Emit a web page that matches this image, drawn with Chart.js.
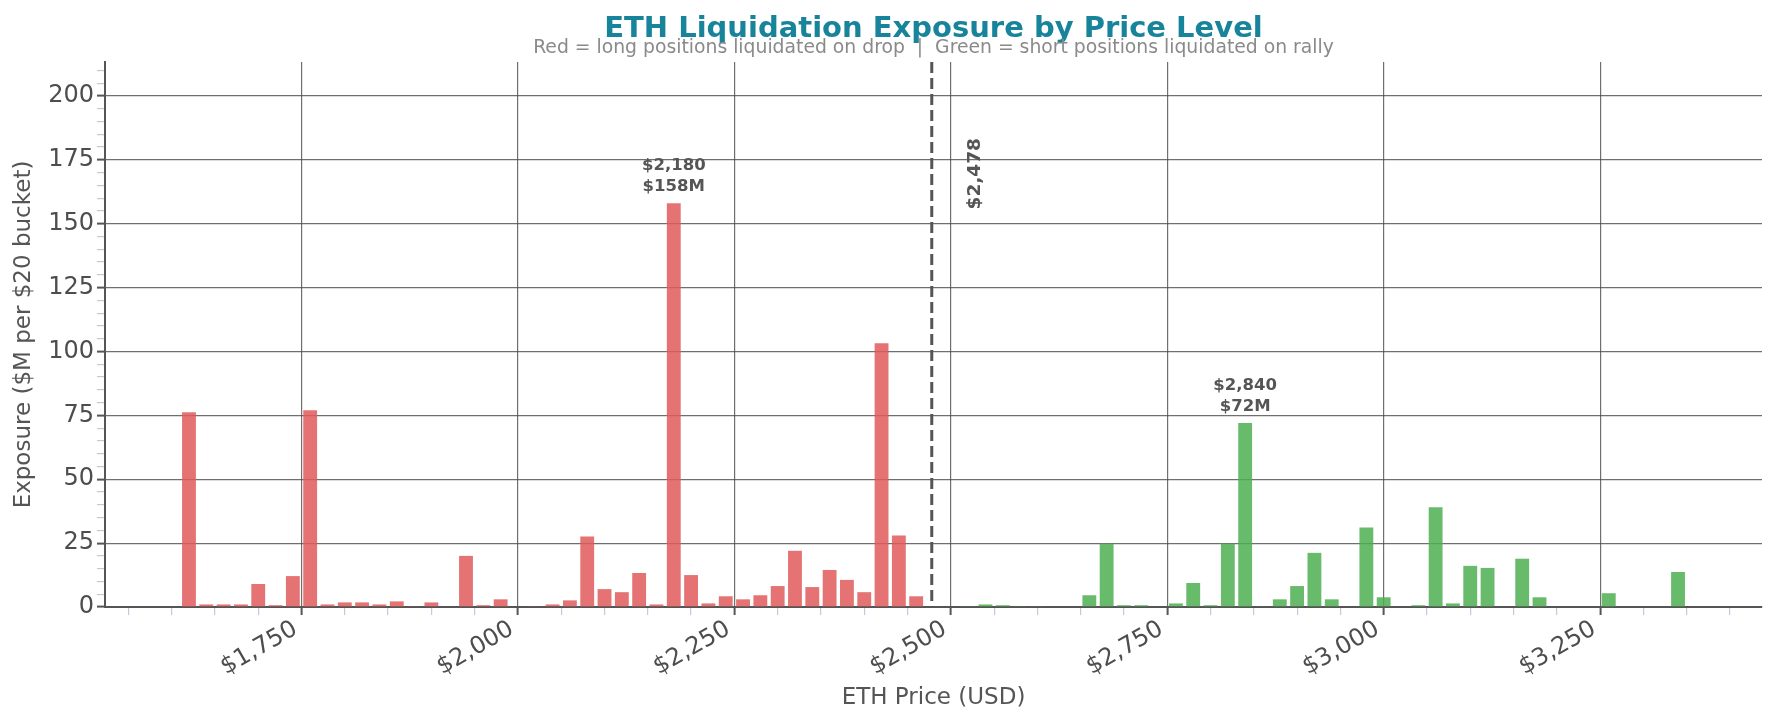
<!DOCTYPE html>
<html>
<head>
<meta charset="utf-8">
<script src="https://cdn.jsdelivr.net/npm/chart.js@4.4.1/dist/chart.umd.min.js"></script>
<style>
  html, body { margin: 0; padding: 0; background: #fff; }
  #wrap { width: 1776px; height: 723px; }
</style>
</head>
<body>
<div id="wrap"><canvas id="liqChart"></canvas></div>
<script>
// ===== data ($M exposure per $20 price bucket)
var longPrices = [1620, 1640, 1660, 1680, 1700, 1720, 1740, 1760, 1780, 1800, 1820, 1840, 1860, 1880, 1900,
    1940, 1960, 1980, 2020, 2040, 2060, 2080, 2100, 2120, 2140, 2160, 2180, 2200, 2220, 2240, 2260,
    2280, 2300, 2320, 2340, 2360, 2380, 2400, 2420, 2440, 2460];
var longValues = [76.2, 1.0, 1.0, 1.0, 9.0, 0.7, 12.1, 77.0, 1.0, 1.8, 1.8, 1.0, 2.2, 0.3, 1.8,
    20.0, 0.7, 3.0, 0.3, 1.0, 2.6, 27.6, 7.0, 5.8, 13.3, 1.0, 158, 12.5, 1.4, 4.2, 3.0,
    4.6, 8.2, 22.0, 7.8, 14.5, 10.6, 5.8, 103.2, 28.0, 4.2];

var shortPrices = [2520, 2540, 2560, 2580, 2600, 2660, 2680, 2700, 2720, 2760, 2780, 2800, 2820, 2840, 2860,
    2880, 2900, 2920, 2940, 2980, 3000, 3040, 3060, 3080, 3100, 3120, 3160, 3180, 3260, 3340];
var shortValues = [0.3, 1.0, 0.7, 0.3, 0.3, 4.6, 24.8, 0.7, 0.7, 1.4, 9.4, 0.7, 24.8, 72, 0.3,
    3.0, 8.2, 21.2, 3.0, 31.1, 3.8, 0.7, 39.0, 1.4, 16.1, 15.3, 18.9, 3.8, 5.4, 13.7];

var currentPrice = 2478;
var xRange = [1523, 3437];
var yMax = 213.3;
var xLabelStep = 250;
var yLabelStep = 25;

var FONT = "'DejaVu Sans', 'Liberation Sans', sans-serif";

function toPoints(prices, values) {
    var pts = [];
    for (var i = 0; i < prices.length; i++) {
        pts.push({ x: prices[i], y: values[i] });
    }
    return pts;
}

function fmtUsd(v) {
    return '$' + Number(v).toLocaleString('en-US');
}

function peakOf(prices, values) {
    var idx = 0;
    for (var i = 1; i < values.length; i++) {
        if (values[i] > values[idx]) idx = i;
    }
    return { price: prices[idx], value: values[idx] };
}

//===================================== overlay: title, current price line, peak labels
var overlayPlugin = {
    id: 'overlay',
    afterDatasetsDraw: function (chart) {
        var ctx = chart.ctx;
        var area = chart.chartArea;
        var xs = chart.scales.x;
        var ys = chart.scales.y;

        // dashed current price line
        var cx = xs.getPixelForValue(currentPrice);
        ctx.save();
        ctx.strokeStyle = '#555';
        ctx.lineWidth = 3;
        ctx.setLineDash([11, 5]);
        ctx.beginPath();
        ctx.moveTo(cx, area.top);
        ctx.lineTo(cx, area.bottom);
        ctx.stroke();
        ctx.restore();

        // current price label (rotated)
        ctx.save();
        ctx.fillStyle = '#555';
        ctx.font = 'bold 18.5px ' + FONT;
        ctx.translate(cx + 43, ys.getPixelForValue(yMax * 0.795));
        ctx.rotate(-Math.PI / 2);
        ctx.textAlign = 'center';
        ctx.textBaseline = 'middle';
        ctx.fillText(fmtUsd(currentPrice), 0, 0);
        ctx.restore();

        // peak labels
        var peaks = [peakOf(longPrices, longValues), peakOf(shortPrices, shortValues)];
        ctx.save();
        ctx.fillStyle = '#555';
        ctx.font = 'bold 16.5px ' + FONT;
        ctx.textAlign = 'center';
        ctx.textBaseline = 'alphabetic';
        peaks.forEach(function (pk) {
            var px = xs.getPixelForValue(pk.price);
            var py = ys.getPixelForValue(pk.value);
            ctx.fillText(fmtUsd(pk.price), px, py - 33);
            ctx.fillText('$' + Math.round(pk.value) + 'M', px, py - 12);
        });
        ctx.restore();

        // title + subtitle, centred on the plot area
        var mid = (area.left + area.right) / 2;
        ctx.save();
        ctx.textAlign = 'center';
        ctx.textBaseline = 'alphabetic';
        ctx.fillStyle = '#17849b';
        ctx.font = 'bold 29px ' + FONT;
        ctx.fillText('ETH Liquidation Exposure by Price Level', mid, 37);
        ctx.fillStyle = '#8a8a8a';
        ctx.font = '18.8px ' + FONT;
        ctx.fillText('Red = long positions liquidated on drop  |  Green = short positions liquidated on rally', mid, 53);
        ctx.restore();
    }
};

var GRID = 'rgba(75,75,75,0.8)';
var MINOR_TICK = '#c3c9dc';

new Chart(document.getElementById('liqChart'), {
    type: 'bar',
    data: {
        datasets: [
            {
                label: 'Longs',
                data: toPoints(longPrices, longValues),
                backgroundColor: 'rgba(224,90,90,0.85)',
                borderWidth: 0
            },
            {
                label: 'Shorts',
                data: toPoints(shortPrices, shortValues),
                backgroundColor: 'rgba(76,175,80,0.85)',
                borderWidth: 0
            }
        ]
    },
    options: {
        responsive: true,
        maintainAspectRatio: false,
        devicePixelRatio: 1,
        animation: false,
        grouped: false,
        barPercentage: 0.8,
        categoryPercentage: 1.0,
        layout: { padding: { left: 0, right: 14, top: 62, bottom: 0 } },
        plugins: {
            legend: { display: false },
            tooltip: { enabled: false }
        },
        scales: {
            x: {
                type: 'linear',
                min: xRange[0],
                max: xRange[1],
                offset: false,
                afterFit: function (scale) { scale.height = 116; },
                border: { display: true, color: '#555', width: 2 },
                grid: {
                    offset: false,
                    color: function (c) { return c.tick && c.tick.value % xLabelStep === 0 ? GRID : 'rgba(0,0,0,0)'; },
                    lineWidth: 1.2,
                    drawTicks: true,
                    tickLength: 8,
                    tickColor: function (c) { return c.tick && c.tick.value % xLabelStep === 0 ? '#555' : MINOR_TICK; },
                    tickWidth: function (c) { return c.tick && c.tick.value % xLabelStep === 0 ? 2 : 1.2; }
                },
                ticks: {
                    stepSize: 50,
                    includeBounds: false,
                    autoSkip: false,
                    minRotation: 30,
                    maxRotation: 30,
                    padding: 0,
                    labelOffset: -6,
                    color: '#4d4d4d',
                    font: { family: FONT, size: 24 },
                    callback: function (v) { return v % xLabelStep === 0 ? fmtUsd(v) : ''; }
                },
                title: {
                    display: true,
                    text: 'ETH Price (USD)',
                    color: '#555',
                    font: { family: FONT, size: 23 },
                    padding: { top: 4, bottom: 11 }
                }
            },
            y: {
                min: 0,
                max: yMax,
                afterFit: function (scale) { scale.width = 105; },
                border: { display: true, color: '#555', width: 2 },
                grid: {
                    color: function (c) { return c.tick && c.tick.value % yLabelStep === 0 && c.tick.value > 0 ? GRID : 'rgba(0,0,0,0)'; },
                    lineWidth: 1.2,
                    drawTicks: true,
                    tickLength: 8,
                    tickColor: function (c) { return c.tick && c.tick.value % yLabelStep === 0 ? '#555' : MINOR_TICK; },
                    tickWidth: function (c) { return c.tick && c.tick.value % yLabelStep === 0 ? 2 : 1.2; }
                },
                ticks: {
                    stepSize: 5,
                    includeBounds: false,
                    autoSkip: false,
                    padding: 3,
                    color: '#4d4d4d',
                    font: { family: FONT, size: 24 },
                    callback: function (v) { return v % yLabelStep === 0 ? String(v) : ''; }
                },
                title: {
                    display: true,
                    text: 'Exposure ($M per $20 bucket)',
                    color: '#555',
                    font: { family: FONT, size: 23 },
                    padding: { top: 10, bottom: 0 }
                }
            }
        }
    },
    plugins: [overlayPlugin]
});
</script>
</body>
</html>
